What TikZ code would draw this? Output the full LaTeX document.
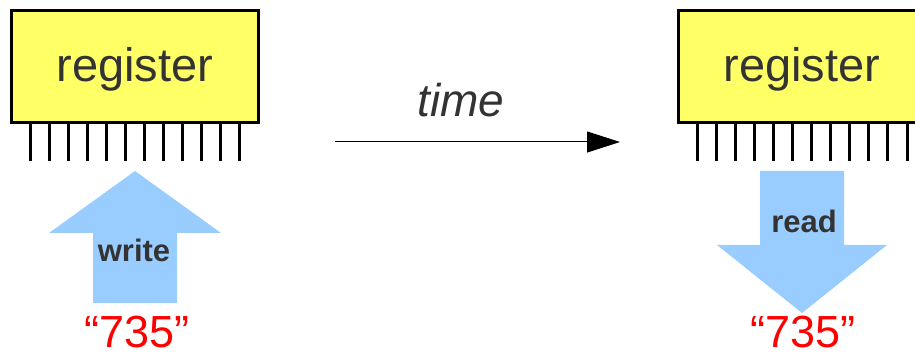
\documentclass[tikz,border=0pt]{standalone}
\usepackage{fontspec}
\setmainfont{Liberation Sans}
\usetikzlibrary{arrows.meta}
\definecolor{regyellow}{HTML}{FFFF66}
\definecolor{txtgray}{HTML}{333333}
\definecolor{arrblue}{HTML}{99CCFF}
\definecolor{valred}{HTML}{FF0000}
\tikzset{
  regbox/.style={draw=black, fill=regyellow, line width=3pt, minimum width=247pt, minimum height=112pt, inner sep=0pt},
  regtext/.style={anchor=base, text=txtgray, font=\fontsize{47}{47}\selectfont, inner sep=0pt},
  pin/.style={line width=3pt, black},
  bigarrow/.style={fill=arrblue, draw=none},
  optext/.style={anchor=base, text=txtgray, font=\fontsize{31}{31}\selectfont\bfseries, inner sep=0pt},
  valtext/.style={anchor=base, text=valred, font=\fontsize{45}{45}\selectfont, inner sep=0pt},
  timetext/.style={anchor=base, text=txtgray, font=\fontsize{46}{46}\selectfont\itshape, inner sep=0pt},
}
\begin{document}
\begin{tikzpicture}[x=1pt, y=-1pt]
\useasboundingbox (0,0) rectangle (915,352);
% left register
\node[regbox] (regL) at (135,66.5) {};
\node[regtext] (regLt) at (135,82) {register};
\foreach \i in {0,...,11} {
  \draw[pin] (30+19.09*\i,124) -- (30+19.09*\i,161);
}
% right register
\node[regbox] (regR) at (802,66.5) {};
\node[regtext] (regRt) at (802,82) {register};
\foreach \i in {0,...,11} {
  \draw[pin] (697+19.09*\i,124) -- (697+19.09*\i,161);
}
% write arrow
\fill[bigarrow] (93,303) -- (93,233) -- (49,233) -- (135,171) -- (221,233) -- (177,233) -- (177,303) -- cycle;
\node[optext] (wr) at (134,262) {write};
\node[valtext] (valL) at (137,348) {“735”};
% read arrow
\fill[bigarrow] (760,171) -- (844,171) -- (844,245) -- (887,245) -- (802,313) -- (717,245) -- (760,245) -- cycle;
\node[optext] (rd) at (804,233) {read};
\node[valtext] (valR) at (803,348) {“735”};
% time arrow
\coordinate (t0) at (335,142);
\coordinate (t1) at (620,142);
\draw[line width=1pt, -{Triangle[length=33pt,width=21pt]}] (t0) -- (t1);
\node[timetext] (tm) at (461,117) {time};
\end{tikzpicture}
\end{document}
